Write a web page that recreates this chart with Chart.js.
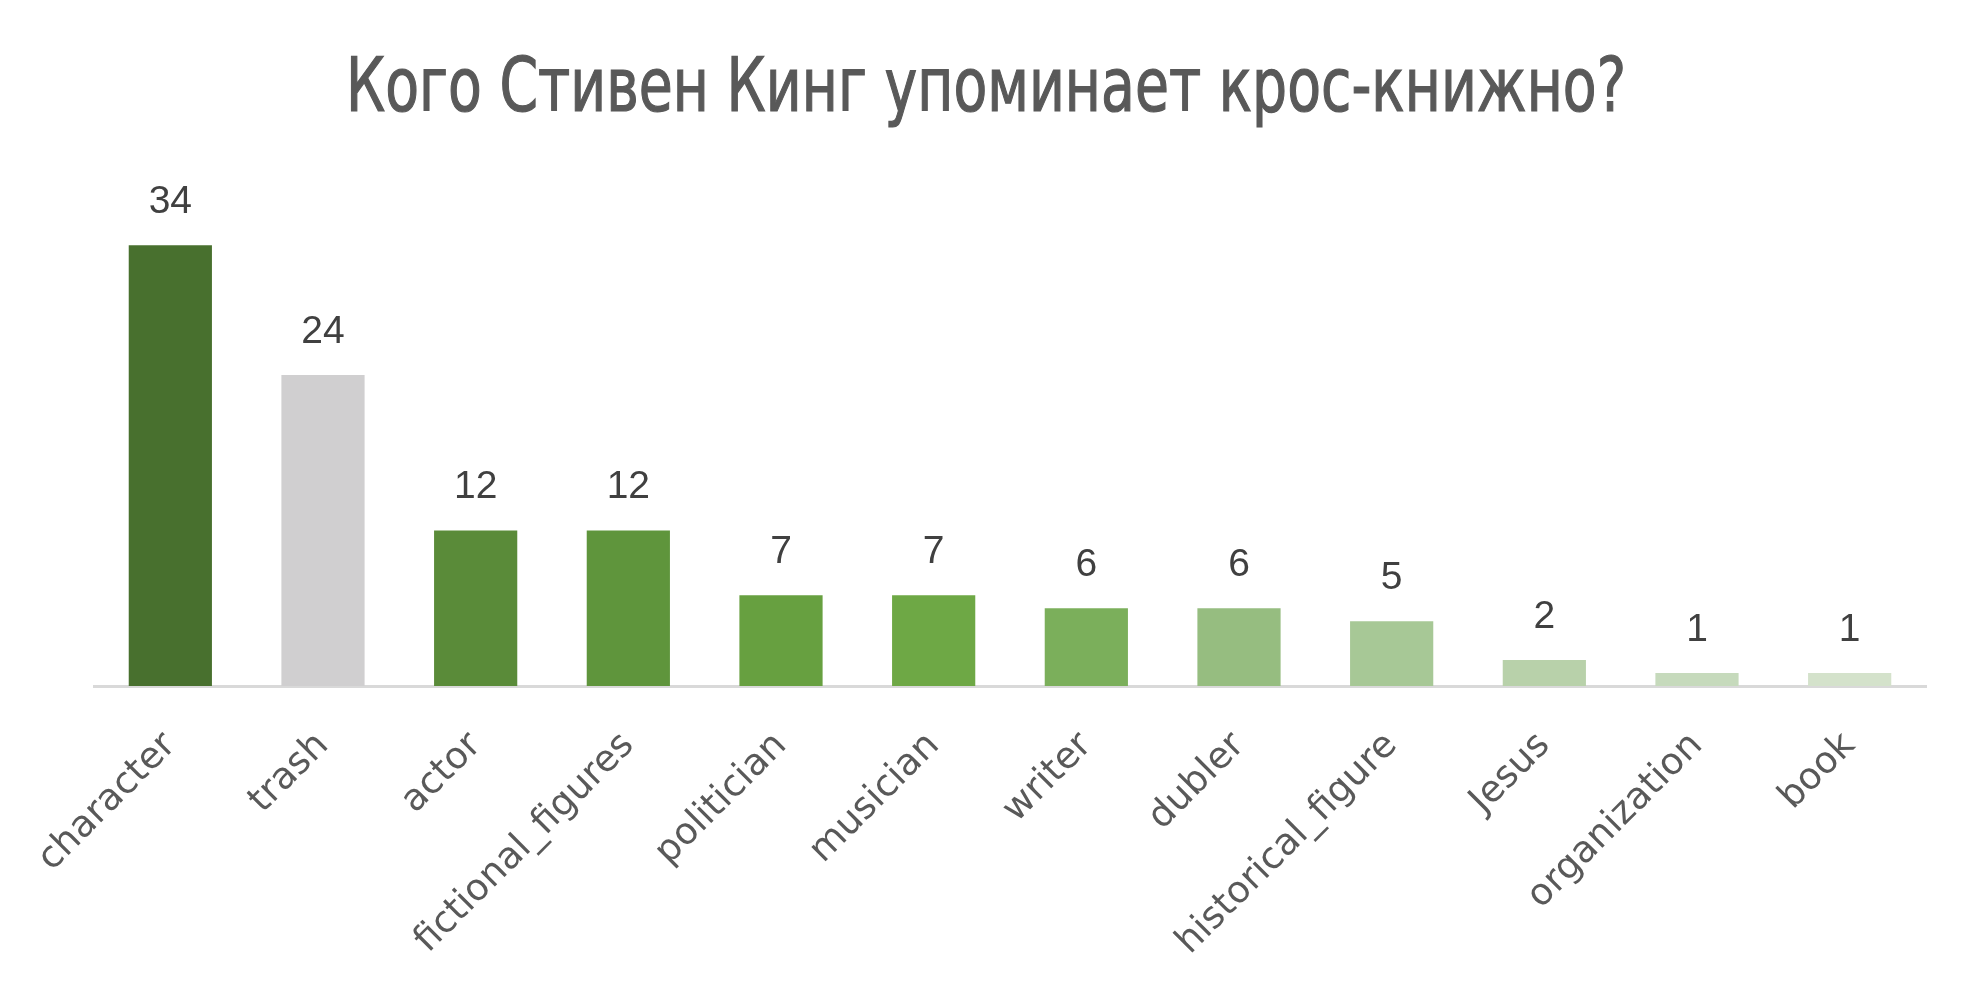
<!DOCTYPE html>
<html>
<head>
<meta charset="utf-8">
<script src="https://cdn.jsdelivr.net/npm/chart.js@4"></script>
<style>
  html, body { margin: 0; padding: 0; background: #fff; }
  #wrap { width: 1974px; height: 990px; }
</style>
</head>
<body>
<div id="wrap"><canvas id="myChart" width="1974" height="990"></canvas></div>
<script>
const chartTitle = 'Кого Стивен Кинг упоминает крос-книжно?'
const categories = ['character', 'trash', 'actor', 'fictional_figures', 'politician', 'musician',
  'writer', 'dubler', 'historical_figure', 'Jesus', 'organization', 'book']
const counts = [34, 24, 12, 12, 7, 7, 6, 6, 5, 2, 1, 1]
const barColors = ['#48702E', '#D0CFD0', '#5A8B39', '#5F953C', '#67A040', '#6EA845',
  '#7BAF5B', '#96BD80', '#A7C896', '#B8D1AA', '#C6DABC', '#D4E2CB']

// value labels above each bar
const valueLabels = {
  id: 'valueLabels',
  afterDatasetsDraw(chart) {
    const ctx = chart.ctx
    const meta = chart.getDatasetMeta(0)
    ctx.save()
    ctx.font = '39px "Liberation Sans", Arial, sans-serif'
    ctx.fillStyle = '#404040'
    ctx.textAlign = 'center'
    ctx.textBaseline = 'middle'
    meta.data.forEach((bar, i) => {
      ctx.fillText(String(counts[i]), bar.x, bar.y - 43)
    })
    ctx.restore()
  }
}

// condensed title, squeezed to the width of the original
const titleText = {
  id: 'titleText',
  afterDraw(chart) {
    const ctx = chart.ctx
    ctx.save()
    ctx.font = '74px "DejaVu Sans Condensed", "DejaVu Sans", sans-serif'
    const w = ctx.measureText(chartTitle).width
    const sx = 1280 / w
    ctx.translate(986, 111)
    ctx.scale(sx, 1)
    ctx.fillStyle = '#595959'
    ctx.strokeStyle = '#595959'
    ctx.lineWidth = 1.2
    ctx.textAlign = 'center'
    ctx.textBaseline = 'alphabetic'
    ctx.fillText(chartTitle, 0, 0)
    ctx.strokeText(chartTitle, 0, 0)
    ctx.restore()
  }
}

const ctx = document.getElementById('myChart')

new Chart(ctx, {
  type: 'bar',
  data: {
    labels: categories,
    datasets: [{
      data: counts,
      backgroundColor: barColors,
      borderWidth: 0,
      categoryPercentage: 1,
      barPercentage: 0.545
    }]
  },
  options: {
    responsive: false,
    animation: false,
    devicePixelRatio: 1,
    layout: { padding: { left: 94, right: 48, top: 167.6, bottom: 0 } },
    plugins: {
      legend: { display: false },
      tooltip: { enabled: false },
      title: { display: false }
    },
    scales: {
      x: {
        grid: { display: false, drawTicks: false },
        border: { display: true, color: '#D9D9D9', width: 3 },
        ticks: {
          color: '#595959',
          font: { family: '"DejaVu Sans", sans-serif', size: 37 },
          minRotation: 45,
          maxRotation: 45,
          padding: 38,
          autoSkip: false
        },
        afterFit(scale) { scale.height = 304 }
      },
      y: {
        display: false,
        min: 0,
        max: 40
      }
    }
  },
  plugins: [valueLabels, titleText]
})
</script>
</body>
</html>
